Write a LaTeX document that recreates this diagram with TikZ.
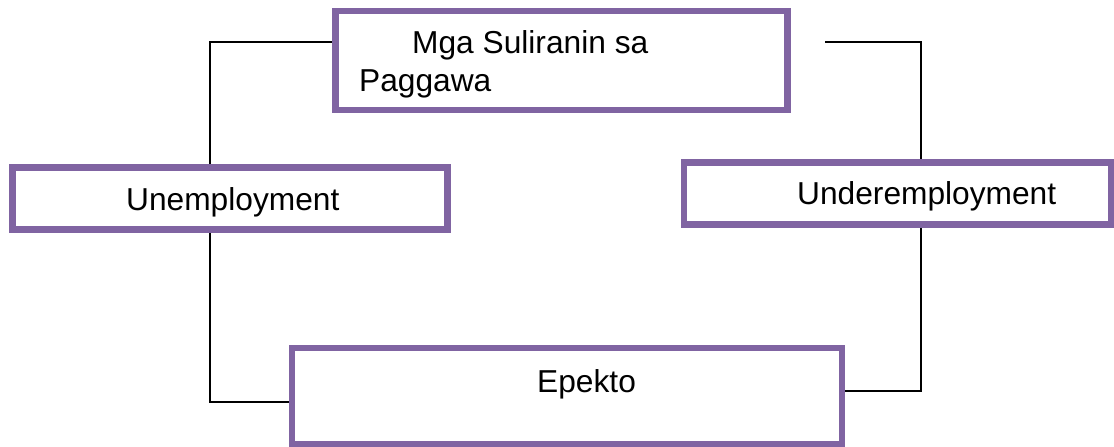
\documentclass[tikz,border=0pt]{standalone}
\usepackage{fontspec}
\setmainfont{Liberation Sans}
\usetikzlibrary{backgrounds}
\definecolor{boxpurple}{HTML}{8064A2}
\tikzset{
  box/.style={draw=boxpurple, line width=6.5pt, rectangle, inner sep=0pt, fill=none},
  conn/.style={draw=black, line width=1.6pt},
  lbl/.style={inner sep=0pt, anchor=base west, font=\fontsize{31.7}{38}\selectfont}
}
\begin{document}
\begin{tikzpicture}[x=1pt,y=-1pt]
\useasboundingbox (0,0) rectangle (1114,447);
\node[box, minimum width=452pt, minimum height=99pt] (top) at (561.5,60.5) {};
\node[box, minimum width=435pt, minimum height=62pt] (unemp) at (230,198.5) {};
\node[box, minimum width=427pt, minimum height=62pt] (under) at (897.5,193.5) {};
\node[box, minimum width=550pt, minimum height=96pt] (epekto) at (567,396) {};
\node[lbl] (t1) at (412,53) {Mga Suliranin sa};
\node[lbl] (t2) at (359,91) {Paggawa};
\node[lbl] (t3) at (126,210) {Unemployment};
\node[lbl] (t4) at (797,204) {Underemployment};
\node[lbl] (t5) at (537,392) {Epekto};
\coordinate (gapend) at (825,42);
\begin{scope}[on background layer]
\draw[conn] ([yshift=18.5pt]top.west) -| ([xshift=-20pt]unemp.north);
\draw[conn] ([xshift=-20pt]unemp.south) |- ([yshift=-6pt]epekto.west);
\draw[conn] ([yshift=5pt]epekto.east) -| ([xshift=23.5pt]under.south);
\draw[conn] ([xshift=23.5pt]under.north) |- (gapend);
\end{scope}
\end{tikzpicture}
\end{document}
